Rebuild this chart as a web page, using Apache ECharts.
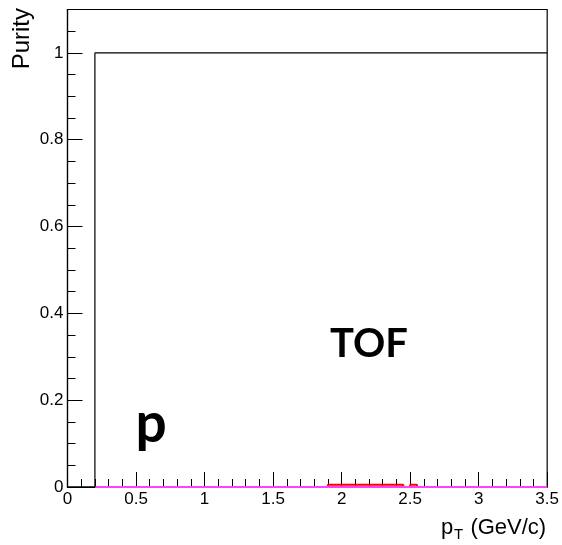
<!DOCTYPE html>
<html>
<head>
<meta charset="utf-8">
<script src="https://cdn.jsdelivr.net/npm/echarts@6/dist/echarts.min.js"></script>
<style>
  html, body { margin: 0; padding: 0; background: #fff; }
  #chart { width: 562px; height: 545px; }
</style>
</head>
<body>
<div id="chart"></div>
<script>
// Step histograms: each x entry is a bin low edge, the last one closes the range.
const protonEdges = [0, 0.2, 3.5];
const protonPurity = [0, 1, 1];

const pionEdges = [0.2, 3.5];
const pionPurity = [0, 0];

const kaonEdges = [0.2, 1.9, 2.45, 2.5, 2.55, 3.5];
const kaonPurity = [0, 0.005, 0, 0.005, 0, 0];

// Axis ranges and labelled ticks
const xRange = [0, 3.5];
const yRange = [0, 1.1];
const xTickLabels = ['0', '0.5', '1', '1.5', '2', '2.5', '3', '3.5'];
const yTickLabels = ['0', '0.2', '0.4', '0.6', '0.8', '1'];

const toPoints = (xs, ys) => xs.map((x, i) => [x, ys[i]]);

const axisFont = 'Liberation Sans, Arial, Helvetica, sans-serif';
const bannerFont = 'Lato, "Open Sans", sans-serif';

const chart = echarts.init(document.getElementById('chart'), null, { renderer: 'canvas' });

const stepSeries = (name, xs, ys, color, width, z) => ({
  name,
  type: 'line',
  step: 'end',
  data: toPoints(xs, ys),
  showSymbol: false,
  symbol: 'none',
  clip: false,
  z,
  lineStyle: { color, width },
  emphasis: { disabled: true }
});

chart.setOption({
  animation: false,
  backgroundColor: '#fff',
  grid: {
    left: 67.5, right: 13, top: 9.5, bottom: 58,
    show: true, borderColor: '#000', borderWidth: 1.2, backgroundColor: 'transparent'
  },
  xAxis: {
    type: 'value',
    min: xRange[0], max: xRange[1], interval: 0.5,
    name: '{p|p}{sub|T}{u| (GeV/c)}',
    nameLocation: 'end',
    nameGap: 0,
    nameTextStyle: {
      align: 'right', verticalAlign: 'top', padding: [27, 1, 0, 0],
      rich: {
        p: { fontFamily: axisFont, fontSize: 22, color: '#000' },
        sub: { fontFamily: axisFont, fontSize: 15, color: '#000', padding: [13, 1, 0, 1] },
        u: { fontFamily: axisFont, fontSize: 22, color: '#000' }
      }
    },
    axisLine: { show: true, onZero: false, lineStyle: { color: '#000', width: 1.2 } },
    axisTick: { show: true, inside: true, length: 15, lineStyle: { color: '#000', width: 1 } },
    minorTick: { show: true, splitNumber: 5, length: 8, lineStyle: { color: '#000', width: 1 } },
    splitLine: { show: false },
    axisLabel: {
      show: true, margin: 4, color: '#000', fontFamily: axisFont, fontSize: 17,
      formatter: v => { const s = String(+v.toFixed(2)); return xTickLabels.includes(s) ? s : ''; }
    }
  },
  yAxis: [
    {
      type: 'value',
      min: yRange[0], max: yRange[1], interval: 0.2,
      axisLine: { show: true, onZero: false, lineStyle: { color: '#000', width: 1.2 } },
      axisTick: { show: true, inside: true, length: 15, lineStyle: { color: '#000', width: 1 } },
      splitLine: { show: false },
      axisLabel: {
        show: true, margin: 4, color: '#000', fontFamily: axisFont, fontSize: 17,
        showMaxLabel: false,
        formatter: v => { const s = String(+v.toFixed(2)); return yTickLabels.includes(s) ? s : ''; }
      }
    },
    {
      // fine ticks every 0.05
      type: 'value',
      position: 'left',
      min: yRange[0], max: yRange[1], interval: 0.05,
      axisLine: { show: false },
      axisTick: { show: true, inside: true, length: 8, lineStyle: { color: '#000', width: 1 } },
      splitLine: { show: false },
      axisLabel: { show: false }
    }
  ],
  graphic: [
    {
      type: 'text',
      x: 22, y: 8,
      rotation: Math.PI / 2,
      style: {
        text: 'Purity', fill: '#000', font: '24px ' + axisFont,
        align: 'right', verticalAlign: 'middle'
      }
    },
    {
      type: 'text',
      x: 369, y: 344,
      style: {
        text: 'TOF', fill: '#000', font: 'bold 40px ' + bannerFont,
        align: 'center', verticalAlign: 'middle'
      }
    },
    {
      type: 'text',
      x: 151, y: 424,
      style: {
        text: 'p', fill: '#000', font: 'bold 55px ' + bannerFont,
        align: 'center', verticalAlign: 'middle'
      }
    }
  ],
  series: [
    stepSeries('K', kaonEdges, kaonPurity, '#ff0000', 2, 2),
    stepSeries('pi', pionEdges, pionPurity, '#ff40ff', 2, 3),
    stepSeries('p', protonEdges, protonPurity, '#000000', 1.2, 4)
  ]
});
</script>
</body>
</html>
